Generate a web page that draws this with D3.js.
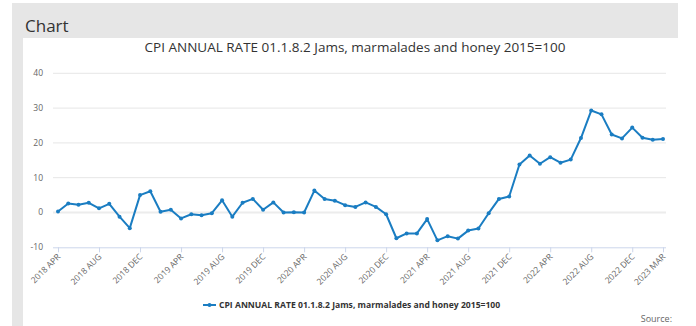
<!DOCTYPE html>
<html><head><meta charset="utf-8">
<script src="https://cdn.jsdelivr.net/npm/d3@7"></script>
<style>
html,body{margin:0;padding:0;background:#fff;}
svg{display:block;font-family:"Open Sans",sans-serif;}
</style></head>
<body>
<svg id="c" width="696" height="326"></svg>
<script>
const months = ["2018 APR","2018 MAY","2018 JUN","2018 JUL","2018 AUG","2018 SEP","2018 OCT","2018 NOV","2018 DEC",
"2019 JAN","2019 FEB","2019 MAR","2019 APR","2019 MAY","2019 JUN","2019 JUL","2019 AUG","2019 SEP","2019 OCT","2019 NOV","2019 DEC",
"2020 JAN","2020 FEB","2020 MAR","2020 APR","2020 MAY","2020 JUN","2020 JUL","2020 AUG","2020 SEP","2020 OCT","2020 NOV","2020 DEC",
"2021 JAN","2021 FEB","2021 MAR","2021 APR","2021 MAY","2021 JUN","2021 JUL","2021 AUG","2021 SEP","2021 OCT","2021 NOV","2021 DEC",
"2022 JAN","2022 FEB","2022 MAR","2022 APR","2022 MAY","2022 JUN","2022 JUL","2022 AUG","2022 SEP","2022 OCT","2022 NOV","2022 DEC",
"2023 JAN","2023 FEB","2023 MAR"];
const values = [0.3,2.6,2.2,2.8,1.2,2.5,-1.2,-4.5,5.0,6.1,0.2,0.8,-1.7,-0.5,-0.8,-0.2,3.5,-1.2,2.8,3.9,0.8,2.9,0.0,0.1,0.0,6.3,3.9,3.4,2.1,1.6,2.9,1.6,-0.5,
-7.4,-6.0,-6.0,-1.9,-8.0,-6.8,-7.5,-5.2,-4.6,-0.2,3.9,4.6,13.8,16.4,14.0,15.9,14.3,15.2,21.4,29.3,28.2,22.4,21.3,24.4,21.5,20.9,21.1];
const tickLabels = ["2018 APR","2018 AUG","2018 DEC","2019 APR","2019 AUG","2019 DEC","2020 APR","2020 AUG","2020 DEC","2021 APR","2021 AUG","2021 DEC","2022 APR","2022 AUG","2022 DEC","2023 MAR"];
const yTicks = [-10,0,10,20,30,40];
const seriesName = "CPI ANNUAL RATE 01.1.8.2 Jams, marmalades and honey 2015=100";
const chartTitle = "CPI ANNUAL RATE 01.1.8.2 Jams, marmalades and honey 2015=100";

const svg = d3.select("#c");
const color = "#1a7dc2";

// frame
svg.append("rect").attr("x",12).attr("y",3).attr("width",666).attr("height",35).attr("fill","#e6e6e6");
svg.append("rect").attr("x",12).attr("y",38).attr("width",11).attr("height",288).attr("fill","#e6e6e6");
svg.append("text").attr("x",25).attr("y",32).attr("font-size",17).attr("fill","#333").text("Chart");

svg.append("text").attr("x",355).attr("y",52).attr("text-anchor","middle").attr("font-size",13.5).attr("fill","#333").text(chartTitle);

const x = d3.scalePoint().domain(months).range([58,663]);
const y = d3.scaleLinear().domain([-10,40]).range([247.3,73.3]);
const gx0 = 53, gx1 = 666;

// grid
svg.append("g").selectAll("line").data(yTicks.filter(d=>d!==-10)).join("line")
  .attr("x1",gx0).attr("x2",gx1).attr("y1",d=>y(d)).attr("y2",d=>y(d))
  .attr("stroke",d=>d===0?"#ececec":"#e6e6e6").attr("stroke-width",d=>d===0?2:1);
// y labels
svg.append("g").selectAll("text").data(yTicks).join("text")
  .attr("x",43).attr("y",d=>y(d)).attr("dy","0.35em").attr("text-anchor","end")
  .attr("font-size",8.5).attr("fill","#666").text(d=>d);

// x axis
const xAxis = d3.axisBottom(x).tickValues(tickLabels).tickSize(5).tickFormat("");
const gAx = svg.append("g").attr("transform",`translate(0,${y(-10)})`).call(xAxis);
gAx.select(".domain").attr("d",`M${gx0},0.5H${gx1}`).attr("stroke","#ccd6eb");
gAx.selectAll(".tick line").attr("stroke","#ccd6eb");
svg.append("g").selectAll("text").data(tickLabels).join("text")
  .attr("transform",d=>`translate(${x(d)+3},${y(-10)+10}) rotate(-45)`)
  .attr("text-anchor","end").attr("font-size",8.5).attr("fill","#666").text(d=>d);

// line
const line = d3.line().x((d,i)=>x(months[i])).y(d=>y(d));
svg.append("path").datum(values).attr("d",line).attr("fill","none").attr("stroke",color).attr("stroke-width",2).attr("stroke-linejoin","round");
svg.append("g").selectAll("circle").data(values).join("circle")
  .attr("cx",(d,i)=>x(months[i])).attr("cy",d=>y(d)).attr("r",2).attr("fill",color);

// legend
const ly = 305;
svg.append("line").attr("x1",203).attr("x2",216).attr("y1",ly).attr("y2",ly).attr("stroke",color).attr("stroke-width",2);
svg.append("circle").attr("cx",209.5).attr("cy",ly).attr("r",2).attr("fill",color);
svg.append("text").attr("x",219).attr("y",ly).attr("dy","0.35em").attr("font-size",8.6).attr("font-weight","bold").attr("fill","#333").text(seriesName);

svg.append("text").attr("x",672).attr("y",322).attr("text-anchor","end").attr("font-size",9).attr("fill","#666").text("Source:");
</script>
</body></html>
